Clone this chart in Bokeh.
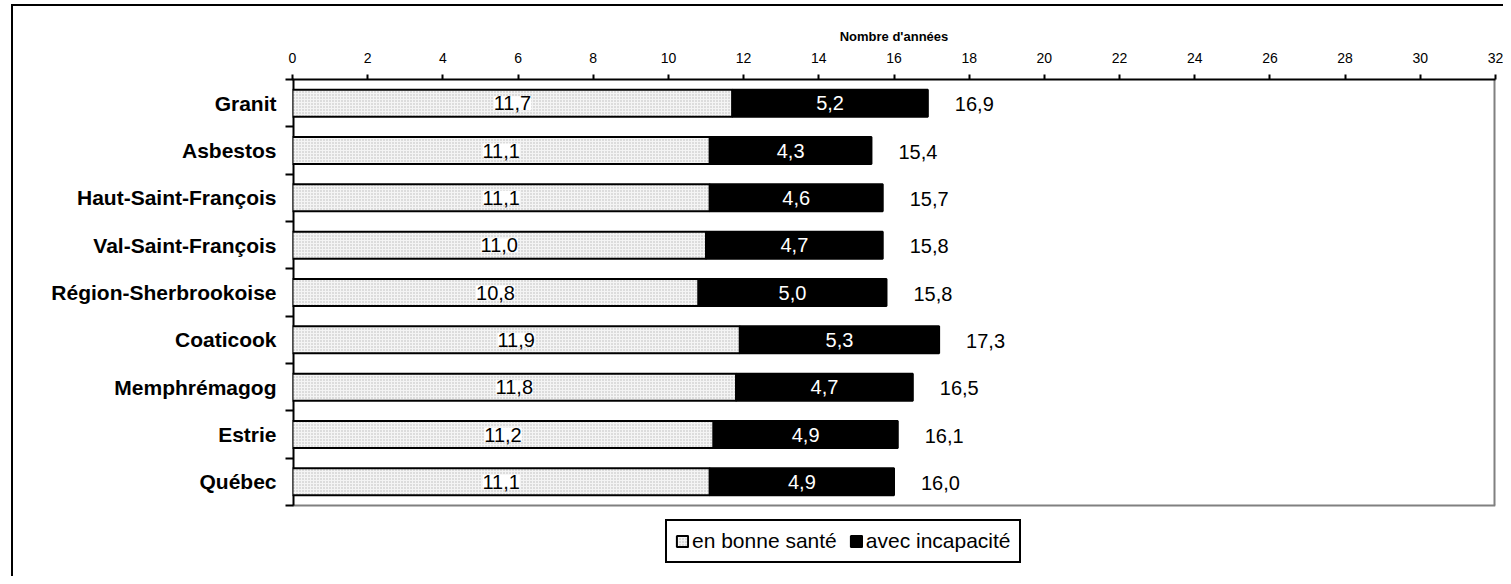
from bokeh.plotting import figure
from bokeh.models import (ColumnDataSource, Range1d, FixedTicker, LabelSet, Legend, LegendItem)
from bokeh.core.properties import value
from bokeh.embed import file_html
from bokeh.resources import INLINE

regions = ["Granit", "Asbestos", "Haut-Saint-François", "Val-Saint-François",
           "Région-Sherbrookoise", "Coaticook", "Memphrémagog", "Estrie", "Québec"]
bonne_sante = [11.7, 11.1, 11.1, 11.0, 10.8, 11.9, 11.8, 11.2, 11.1]
incapacite = [5.2, 4.3, 4.6, 4.7, 5.0, 5.3, 4.7, 4.9, 4.9]
totaux = [16.9, 15.4, 15.7, 15.8, 15.8, 17.3, 16.5, 16.1, 16.0]
x_ticks = list(range(0, 33, 2))
axis_title = "Nombre d'années"
series_names = ["en bonne santé", "avec incapacité"]

def fr(v):
    return f"{v:.1f}".replace(".", ",")

n = len(regions)
XMAX = 32
ypos = [i + 0.5 for i in range(n)]
ends = [a + b for a, b in zip(bonne_sante, incapacite)]
src = ColumnDataSource(dict(
    y=ypos,
    bs=bonne_sante,
    inc=incapacite,
    end=ends,
    bs_mid=[a / 2 for a in bonne_sante],
    inc_mid=[a + b / 2 for a, b in zip(bonne_sante, incapacite)],
    bs_lbl=[fr(v) for v in bonne_sante],
    inc_lbl=[fr(v) for v in incapacite],
    tot_lbl=[fr(v) for v in totaux],
    zero=[0] * n,
))

FONT = "Liberation Sans"

# frame extends below the bars to hold the legend; the plot-area box is drawn with segments
Y_EXT = 10.5
p = figure(frame_width=1203, frame_height=497, output_backend="svg", toolbar_location=None,
           x_range=Range1d(0, XMAX), y_range=Range1d(Y_EXT, 0),
           x_axis_location="above",
           min_border_left=279, min_border_right=8, min_border_top=73, min_border_bottom=0)
p.styles = {"border-left": "2px solid black", "border-top": "2px solid black",
            "margin-left": "11px", "margin-top": "4px"}

p.grid.visible = False
p.outline_line_color = None
p.background_fill_color = "white"
p.border_fill_color = "white"

# plot-area box
p.segment(x0=[XMAX], y0=[0], x1=[XMAX], y1=[n], line_color="#808080", line_width=4)
p.segment(x0=[0], y0=[n], x1=[XMAX], y1=[n], line_color="#808080", line_width=2)
p.segment(x0=[0], y0=[0], x1=[0], y1=[n], line_color="black", line_width=4)

r1 = p.hbar(y="y", left="zero", right="bs", height=0.57, source=src,
            fill_color="#f4f4f4", hatch_pattern="dot", hatch_color="#b8b8b8",
            hatch_scale=3, hatch_weight=1,
            line_color="black", line_width=2)
r2 = p.hbar(y="y", left="bs", right="end", height=0.57, source=src,
            fill_color="black", line_color="black", line_width=2)

# x axis (top)
xa = p.xaxis[0]
xa.ticker = FixedTicker(ticks=x_ticks, minor_ticks=[])
xa.axis_label = axis_title
xa.axis_label_text_font = FONT
xa.axis_label_text_font_style = "bold"
xa.axis_label_text_font_size = "13px"
xa.axis_label_text_color = "black"
xa.axis_label_standoff = 6
xa.major_label_text_font = FONT
xa.major_label_text_font_size = "14px"
xa.major_label_text_color = "black"
xa.major_label_standoff = 12
xa.major_tick_in = 0
xa.major_tick_out = 5
xa.major_tick_line_width = 2
xa.major_tick_line_color = "black"
xa.axis_line_width = 2
xa.axis_line_color = "black"

# y axis (left) - line drawn as segment above
ya = p.yaxis[0]
ya.ticker = FixedTicker(ticks=ypos, minor_ticks=list(range(n + 1)))
ya.major_label_overrides = {y: r for y, r in zip(ypos, regions)}
ya.major_label_text_font = FONT
ya.major_label_text_font_style = "bold"
ya.major_label_text_font_size = "21px"
ya.major_label_text_color = "black"
ya.major_label_standoff = 9
ya.major_tick_in = 0
ya.major_tick_out = 0
ya.minor_tick_in = 1
ya.minor_tick_out = 7
ya.minor_tick_line_width = 2
ya.minor_tick_line_color = "black"
ya.axis_line_color = None

p.add_layout(LabelSet(x="bs_mid", y="y", text="bs_lbl", source=src,
                      text_align="center", text_baseline="middle",
                      text_font=value(FONT), text_font_size="20px", text_color="black",
                      background_fill_color="white"))
p.add_layout(LabelSet(x="inc_mid", y="y", text="inc_lbl", source=src,
                      text_align="center", text_baseline="middle",
                      text_font=value(FONT), text_font_size="20px", text_color="white"))
p.add_layout(LabelSet(x="end", y="y", text="tot_lbl", source=src, x_offset=27, y_offset=-1,
                      text_align="left", text_baseline="middle",
                      text_font=value(FONT), text_font_size="20px", text_color="black"))

legend = Legend(items=[LegendItem(label=series_names[0], renderers=[r1]),
                       LegendItem(label=series_names[1], renderers=[r2])],
                orientation="horizontal", location=(373, 13),
                label_text_font=FONT, label_text_font_size="21px", label_text_color="black",
                glyph_width=14, glyph_height=14, label_standoff=3, spacing=12,
                padding=8, margin=0, border_line_color="black", border_line_width=2,
                border_line_alpha=1,
                background_fill_color="white", background_fill_alpha=1)
p.add_layout(legend, "center")

open("out.html", "w").write(file_html(p, INLINE))
